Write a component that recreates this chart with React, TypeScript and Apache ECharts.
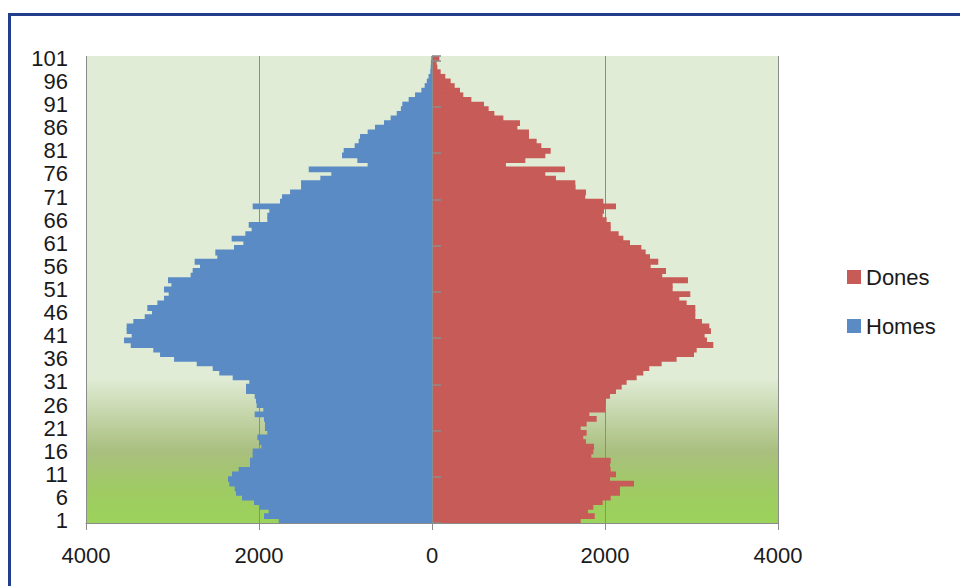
import React, { useEffect, useRef } from "react";
import * as echarts from "echarts";

// Ages 1..101 (bottom to top)
const ages: string[] = Array.from({ length: 101 }, (_, i) => String(i + 1));

// Homes (men), ages 1..101
const homes: number[] = [
  1772, 1942, 1888, 1996, 2058, 2196, 2266, 2281, 2343, 2358,
  2312, 2235, 2104, 2104, 2073, 2073, 1973, 2000, 2019, 1904,
  1931, 1931, 1942, 2050, 1950, 2027, 2035, 2050, 2150, 2150,
  2112, 2304, 2459, 2535, 2720, 2982, 3144, 3222, 3483, 3560,
  3472, 3530, 3530, 3453, 3321, 3237, 3291, 3175, 3098, 3044,
  3098, 3013, 3052, 2790, 2767, 2682, 2744, 2482, 2505, 2289,
  2181, 2316, 2158, 2085, 2119, 1904, 1904, 1881, 2073, 1757,
  1734, 1641, 1514, 1514, 1291, 1164, 1425, 744, 863, 1040,
  1021, 894, 848, 832, 744, 659, 555, 478, 408, 360,
  343, 270, 196, 123, 85, 60, 40, 20, 15, 12,
  8,
];

// Dones (women), ages 1..101
const dones: number[] = [
  1719, 1881, 1803, 1865, 1973, 2066, 2173, 2173, 2335, 2058,
  2127, 2066, 2058, 2066, 1842, 1865, 1873, 1780, 1749, 1788,
  1719, 1788, 1904, 1819, 2004, 2004, 2011, 2058, 2127, 2193,
  2250, 2366, 2443, 2512, 2655, 2828, 3029, 3060, 3252, 3179,
  3152, 3225, 3206, 3121, 3044, 3044, 3044, 2944, 2859, 2986,
  2782, 2782, 2959, 2662, 2705, 2528, 2616, 2520, 2470, 2420,
  2289, 2212, 2158, 2066, 2066, 2019, 1973, 1988, 2127, 1981,
  1772, 1780, 1660, 1657, 1433, 1310, 1537, 855, 1079, 1310,
  1372, 1264, 1210, 1121, 1121, 987, 1017, 825, 721, 655,
  601, 455, 362, 324, 262, 216, 154, 100, 62, 54,
  85,
];

const legendNames: string[] = ["Dones", "Homes"];

const FONT = "'Liberation Sans', Arial, sans-serif";
const BLUE = "#5B8BC5";
const RED = "#C75B57";

export default function App() {
  const ref = useRef<HTMLDivElement>(null);

  useEffect(() => {
    if (!ref.current) return;
    const chart = echarts.init(ref.current, null, { renderer: "svg" });
    chart.setOption({
      animation: false,
      backgroundColor: "#ffffff",
      textStyle: { fontFamily: FONT },
      grid: {
        left: 86,
        right: 182,
        top: 56,
        bottom: 63,
        show: true,
        borderWidth: 0,
        backgroundColor: new echarts.graphic.LinearGradient(0, 0, 0, 1, [
          { offset: 0, color: "#E0ECD5" },
          { offset: 0.69, color: "#E0ECD5" },
          { offset: 0.845, color: "#A9BF7F" },
          { offset: 0.93, color: "#9FCB63" },
          { offset: 1, color: "#9BD35B" },
        ]),
      },
      legend: {
        data: legendNames,
        orient: "vertical",
        left: 847,
        top: 266,
        itemWidth: 14,
        itemHeight: 14,
        itemGap: 27,
        padding: 0,
        icon: "rect",
        textStyle: { fontSize: 22, color: "#1a1a1a", fontFamily: FONT },
      },
      xAxis: {
        type: "value",
        min: -4000,
        max: 4000,
        interval: 2000,
        axisLine: { show: true, onZero: false, lineStyle: { color: "#8c8c8c", width: 1 } },
        axisTick: { show: true, length: 7, lineStyle: { color: "#8c8c8c" } },
        axisLabel: {
          fontSize: 22,
          color: "#1a1a1a",
          margin: 21,
          fontFamily: FONT,
          formatter: (v: number) => String(Math.abs(v)),
        },
        splitLine: { show: true, lineStyle: { color: "#8c8c8c", width: 1 } },
      },
      yAxis: [
        {
          type: "category",
          data: ages,
          position: "left",
          axisLine: { show: false, onZero: false },
          axisTick: { show: false },
          axisLabel: {
            interval: 4,
            fontSize: 22,
            color: "#1a1a1a",
            margin: 18,
            fontFamily: FONT,
          },
          splitLine: { show: false },
        },
        {
          type: "category",
          data: ages,
          position: "left",
          z: 10,
          axisLine: { show: true, onZero: true, lineStyle: { color: "#8c8c8c", width: 1 } },
          axisTick: {
            show: true,
            inside: true,
            length: 9,
            interval: (index: number) => index % 10 === 0,
            lineStyle: { color: "#8c8c8c", width: 1.5 },
          },
          axisLabel: { show: false },
          splitLine: { show: false },
        },
      ],
      series: [
        {
          name: "Homes",
          type: "bar",
          stack: "total",
          yAxisIndex: 0,
          barWidth: "125%",
          itemStyle: { color: BLUE },
          data: homes.map((v) => -v),
        },
        {
          name: "Dones",
          type: "bar",
          stack: "total",
          yAxisIndex: 0,
          barWidth: "125%",
          itemStyle: { color: RED },
          data: dones,
        },
      ],
      graphic: [
        {
          type: "rect",
          left: 7,
          top: 12,
          shape: { x: 0, y: 0, width: 1000, height: 1000 },
          style: { fill: "none", stroke: "#233E8B", lineWidth: 3 },
          silent: true,
        },
      ],
    });
    return () => chart.dispose();
  }, []);

  return (
    <div
      ref={ref}
      style={{ position: "fixed", left: 0, top: 0, width: 960, height: 586 }}
    />
  );
}
